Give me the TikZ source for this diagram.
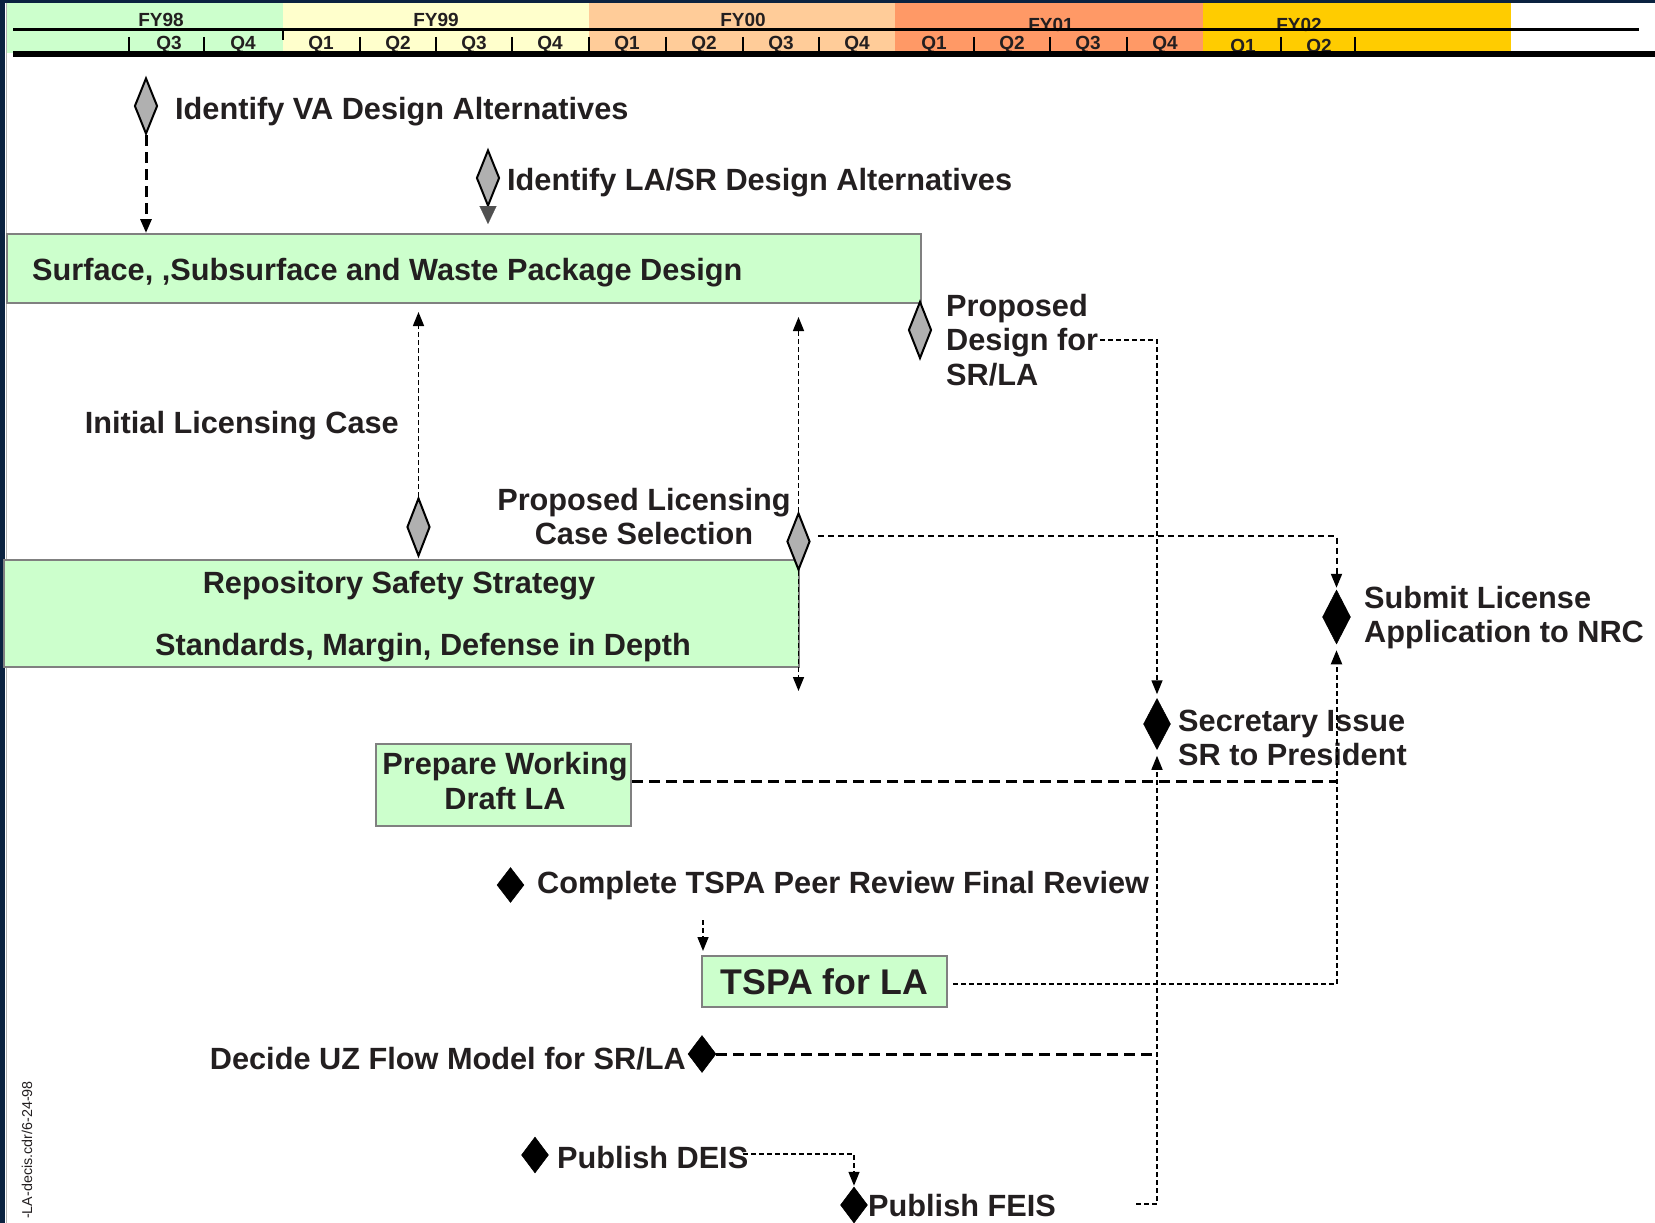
\documentclass[tikz,border=0pt]{standalone}
\usepackage{fontspec}
\setmainfont{Liberation Sans}
\usetikzlibrary{shapes.geometric,arrows.meta}
\definecolor{boxgreen}{HTML}{CCFFCC}
\definecolor{fyyellow}{HTML}{FFFFCC}
\definecolor{fypeach}{HTML}{FFCC99}
\definecolor{fyorange}{HTML}{FF9966}
\definecolor{fygold}{HTML}{FFCC00}
\definecolor{navyb}{HTML}{0A2240}
\definecolor{ink}{HTML}{231F20}
\definecolor{msgrey}{HTML}{B0B0B0}
\definecolor{tipgrey}{HTML}{505050}
\begin{document}
\begin{tikzpicture}[x=1pt,y=-1pt,
  hdr/.style={font=\fontsize{19}{19}\selectfont\bfseries, text=ink, inner sep=0, anchor=base},
  lbl/.style={font=\fontsize{30.7}{34.5}\selectfont\bfseries, text=ink, inner sep=0},
  gdia/.style={diamond, draw=black, fill=msgrey, line width=2, inner sep=0, minimum width=23, minimum height=56},
  bdia/.style={diamond, draw=black, fill=black, line width=0.5, inner sep=0, minimum width=27, minimum height=36},
  gbox/.style={draw=gray, fill=boxgreen, line width=1.5, inner sep=0},
  thickdash/.style={line width=3, dash pattern=on 11pt off 6pt},
  meddash/.style={line width=2, dash pattern=on 6pt off 4pt},
  thindash/.style={line width=1.5, dash pattern=on 5pt off 3pt},
  tspadash/.style={line width=2, dash pattern=on 5pt off 3pt},
  tip/.style={-{Triangle[width=11pt,length=14pt]}}]
\useasboundingbox (0,0) rectangle (1655,1223);
\fill[white] (0,0) rectangle (1655,1223);
% frame
\fill[navyb] (0,0) rectangle (1655,3);
\fill[navyb] (0,0) rectangle (4.5,1223);
\draw[gray!60, line width=1] (6.5,3) -- (6.5,1223);
% header bands
\fill[boxgreen] (7,3) rectangle (283,53);
\fill[fyyellow] (283,3) rectangle (589,53);
\fill[fypeach] (589,3) rectangle (895,53);
\fill[fyorange] (895,3) rectangle (1203,53);
\fill[fygold] (1203,3) rectangle (1511,53);
\node[hdr] (fy98) at (161,27) {FY98};
\node[hdr] (fy99) at (436,27) {FY99};
\node[hdr] (fy00) at (743,27) {FY00};
\node[hdr] (fy01) at (1051,32) {FY01};
\node[hdr] (fy02) at (1299,32) {FY02};
\foreach \x/\t in {169/Q3,243/Q4,321/Q1,398/Q2,474/Q3,550/Q4,627/Q1,704/Q2,781/Q3,857/Q4,934/Q1,1012/Q2,1088/Q3,1165/Q4}
  \node[hdr] (q\x) at (\x,50) {\t};
\foreach \x/\t in {1243/Q1,1319/Q2}
  \node[hdr] (q\x) at (\x,53) {\t};
\foreach \x in {129,204,360,436,512,589,666,743,819,974,1050,1127,1281,1355}
  \draw[line width=2] (\x,37) -- (\x,52);
\draw[line width=2] (283,29) -- (283,40);
\draw[line width=2.5] (13,29.5) -- (1639,29.5);
\draw[line width=6] (13,54) -- (1655,54);

% boxes
\node[gbox, minimum width=914, minimum height=69, anchor=north west] (surface) at (6,233) {};
\node[lbl, anchor=base west] (surfacet) at (32,280) {Surface, ,Subsurface and Waste Package Design};
\node[gbox, minimum width=795, minimum height=107, anchor=north west] (rss) at (3,559) {};
\node[lbl, anchor=base] (rsst1) at (399,593) {Repository Safety Strategy};
\node[lbl, anchor=base] (rsst2) at (423,655) {Standards, Margin, Defense in Depth};
\node[gbox, minimum width=255, minimum height=82] (pwd) at (503.5,785) {};
\node[lbl, align=center] (pwdt) at (505,781) {Prepare Working\\Draft LA};
\node[gbox, font=\fontsize{35.7}{36}\selectfont\bfseries, text=ink, minimum width=245, minimum height=51, anchor=north west] (tspa) at (701,955) {TSPA for LA};

% milestones
\node[gdia] (va) at (146,106) {};
\node[lbl, anchor=base west] (vat) at (175,119) {Identify VA Design Alternatives};
\node[gdia] (lasr) at (488,178) {};
\node[lbl, anchor=base west] (lasrt) at (507,190) {Identify LA/SR Design Alternatives};
\node[gdia, minimum height=57] (pd) at (920,330) {};
\node[lbl, align=left, anchor=west] (pdt) at (946,340) {Proposed\\Design for\\SR/LA};
\node[gdia, minimum height=58] (ilc) at (418.5,527) {};
\node[lbl, anchor=base east] (ilct) at (399,433) {Initial Licensing Case};
\node[gdia, minimum height=57] (plcs) at (798.5,541.5) {};
\node[lbl, align=center] (plcst) at (644,516.5) {Proposed Licensing\\Case Selection};
\node[bdia, minimum width=28, minimum height=54] (submit) at (1336.5,617) {};
\node[lbl, align=left, anchor=west] (submitt) at (1364,617.5) {Submit License\\Application to NRC};
\node[bdia, minimum width=27, minimum height=51] (sec) at (1157,724) {};
\node[lbl, align=left, anchor=west] (sect) at (1178,738) {Secretary Issue\\SR to President};
\node[bdia, minimum height=35] (ct) at (510.5,885) {};
\node[lbl, anchor=base west] (ctt) at (537,893) {Complete TSPA Peer Review Final Review};
\node[bdia, minimum width=28, minimum height=37] (uz) at (702,1054) {};
\node[lbl, anchor=base east] (uzt) at (686,1069) {Decide UZ Flow Model for SR/LA};
\node[bdia] (deis) at (535,1155) {};
\node[lbl, anchor=base west] (deist) at (557,1168) {Publish DEIS};
\node[bdia] (feis) at (854,1205) {};
\node[lbl, anchor=base west] (feist) at (868,1216) {Publish FEIS};
\node[font=\fontsize{14.3}{14.3}\selectfont, text=ink, rotate=90, anchor=west, inner sep=0] (fileid) at (27,1219) {-LA-decis.cdr/6-24-98};

% free ends
\coordinate (lasrtip) at (488,224);
\coordinate (ilctip) at (418.5,312);
\coordinate (plcsup) at (798.5,317);
\coordinate (plcsdown) at (798.5,691);
\coordinate (pdend) at (1100,340);
\coordinate (ctarr) at (703,920);
\coordinate (deisend) at (743,1154);
\coordinate (feisend) at (1136,1204);
\coordinate (tspastart) at (953,984);
\coordinate (pwdstart) at (632,781);
\coordinate (plcsstart) at (818,536);

% connectors
\draw[thickdash, tip] (va.south) -- (va.south |- surface.north);
\draw[tipgrey, line width=0.1, -{Triangle[width=17pt,length=18pt]}] (lasr.south) -- (lasrtip);
\draw[thindash, tip] (ilc.north) -- (ilctip);
\draw[thindash, tip] (plcs.north) -- (plcsup);
\draw[thindash, tip] (plcs.south) -- (plcsdown);
\draw[thindash, tip, shorten >=4pt] (pdend) -- (pdend -| sec.north) -- (sec.north);
\draw[meddash, tip, shorten >=2pt] (plcsstart) -- (plcsstart -| submit.north) -- (submit.north);
\draw[thickdash] (pwdstart) -- (pwdstart -| submit.south);
\draw[tspadash, tip, shorten >=6pt] (tspastart) -- (tspastart -| submit.south) -- (submit.south);
\draw[thindash, tip, shorten >=4pt] (ctarr) -- (ctarr |- tspa.north);
\draw[thickdash] (uz.east) -- (uz.east -| sec.south);
\draw[thindash, tip, shorten >=1pt] (deisend) -- (deisend -| feis.north) -- (feis.north);
\draw[thindash, tip, shorten >=6pt] (feisend) -- (feisend -| sec.south) -- (sec.south);
\end{tikzpicture}
\end{document}
